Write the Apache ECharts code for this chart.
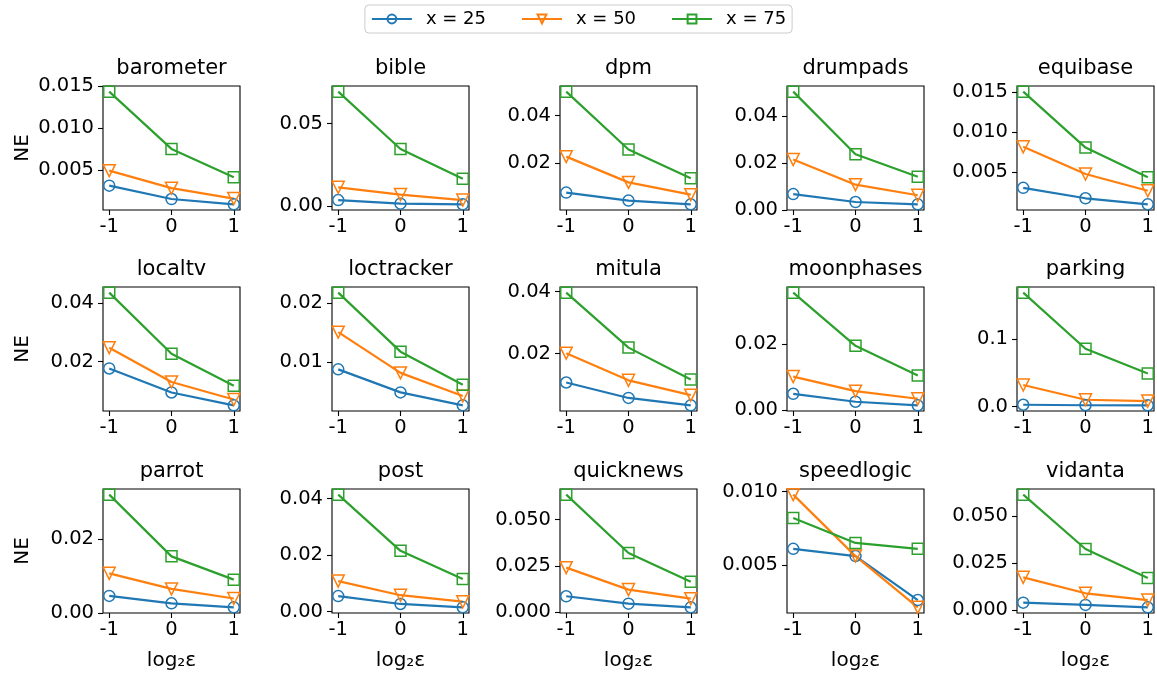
<!DOCTYPE html>
<html>
<head>
<meta charset="utf-8">
<script src="https://cdn.jsdelivr.net/npm/echarts@6/dist/echarts.min.js"></script>
<style>
  html, body { margin: 0; padding: 0; background: #fff; }
  #chart { width: 1157px; height: 675px; }
</style>
</head>
<body>
<div id="chart"></div>
<script>
// log2(epsilon) values on the x axis
const xValues = [-1, 0, 1];
const seriesNames = ['x = 25', 'x = 50', 'x = 75'];

const datasets = ['barometer', 'bible', 'dpm', 'drumpads', 'equibase',
  'localtv', 'loctracker', 'mitula', 'moonphases', 'parking',
  'parrot', 'post', 'quicknews', 'speedlogic', 'vidanta'];

// NE per dataset, for eps = 2^-1, 2^0, 2^1
const ne25 = [
  [0.0031, 0.0015, 0.00086], [0.0038, 0.0016, 0.0012], [0.0075, 0.0041, 0.0025],
  [0.0068, 0.0034, 0.0024], [0.00307, 0.00176, 0.0010],
  [0.0177, 0.0095, 0.0051], [0.0088, 0.0049, 0.0027], [0.0106, 0.0056, 0.0032],
  [0.0050, 0.0026, 0.0015], [0.0025, 0.0018, 0.0016],
  [0.0046, 0.0026, 0.0015], [0.0055, 0.0027, 0.0015], [0.0085, 0.0045, 0.0025],
  [0.0061, 0.0056, 0.0026], [0.0039, 0.0027, 0.0014]
];
const ne50 = [
  [0.0049, 0.0028, 0.00155], [0.0115, 0.0071, 0.0038], [0.0227, 0.0118, 0.0066],
  [0.0215, 0.0108, 0.0063], [0.0082, 0.0048, 0.0027],
  [0.0248, 0.0131, 0.0071], [0.0151, 0.0082, 0.0043], [0.0201, 0.0113, 0.0065],
  [0.0102, 0.0058, 0.0035], [0.0318, 0.0099, 0.0080],
  [0.0107, 0.0065, 0.0039], [0.0108, 0.0058, 0.0035], [0.0240, 0.0121, 0.0072],
  [0.0098, 0.0056, 0.0021], [0.0174, 0.0089, 0.0053]
];
const ne75 = [
  [0.01436, 0.0075, 0.0041], [0.0694, 0.0347, 0.0167], [0.0502, 0.0257, 0.0136],
  [0.0505, 0.0238, 0.0142], [0.0151, 0.0081, 0.0044],
  [0.0436, 0.0227, 0.0118], [0.0218, 0.0118, 0.0062], [0.0397, 0.0219, 0.0116],
  [0.0356, 0.0195, 0.0105], [0.169, 0.0856, 0.0488],
  [0.0320, 0.0153, 0.0090], [0.0414, 0.0215, 0.0115], [0.0635, 0.0319, 0.0163],
  [0.0082, 0.0065, 0.0061], [0.0615, 0.0325, 0.0170]
];

const yTicks = [
  ['0.005', '0.010', '0.015'], ['0.00', '0.05'], ['0.00', '0.02', '0.04'],
  ['0.00', '0.02', '0.04'], ['0.005', '0.010', '0.015'],
  ['0.02', '0.04'], ['0.01', '0.02'], ['0.02', '0.04'],
  ['0.00', '0.02'], ['0.0', '0.1'],
  ['0.00', '0.02'], ['0.00', '0.02', '0.04'], ['0.000', '0.025', '0.050'],
  ['0.005', '0.010'], ['0.000', '0.025', '0.050']
];

const colors = ['#1f77b4', '#ff7f0e', '#2ca02c'];
const symbols = ['circle', 'triangle', 'rect'];
const FONT = 'DejaVu Sans';

const colLeft = [103, 332, 560, 787, 1017];
const rowTop = [86, 287, 489];
const W = 137, H = 124;

var grids = [], xAxes = [], yAxes = [], titles = [], series = [];
const allData = [ne25, ne50, ne75];

datasets.forEach((name, i) => {
  const r = Math.floor(i / 5), c = i % 5;
  grids.push({
    left: colLeft[c], top: rowTop[r], width: W, height: H,
    show: true, borderColor: '#000', borderWidth: 1.1, backgroundColor: 'transparent'
  });
  titles.push({
    text: name, padding: 0,
    left: colLeft[c] + W / 2, top: rowTop[r] - 28, textAlign: 'center',
    textStyle: { fontFamily: FONT, fontSize: 21, fontWeight: 'normal', color: '#000' }
  });

  // matplotlib style limits: 5% margin around the data
  let vals = [].concat(ne25[i], ne50[i], ne75[i]);
  let lo = Math.min.apply(null, vals), hi = Math.max.apply(null, vals);
  let pad = (hi - lo) * 0.05;
  let tickVals = yTicks[i].map(parseFloat);
  let labelMap = {};
  yTicks[i].forEach(t => { labelMap[parseFloat(t).toFixed(6)] = t; });

  xAxes.push({
    type: 'value', gridIndex: i, min: -1.1, max: 1.1,
    name: r === 2 ? 'log₂ε' : '',
    nameLocation: 'middle', nameGap: 38,
    nameTextStyle: { fontFamily: FONT, fontSize: 20, color: '#000' },
    axisLine: { show: false, onZero: false },
    axisTick: { show: true, inside: false, length: 5, customValues: xValues,
      lineStyle: { color: '#000', width: 1.1 } },
    axisLabel: { customValues: xValues, margin: 7, fontFamily: FONT, fontSize: 19.5, color: '#000',
      formatter: v => String(v) },
    splitLine: { show: false }
  });
  yAxes.push({
    type: 'value', gridIndex: i, min: lo - pad, max: hi + pad,
    name: c === 0 ? 'NE' : '',
    nameLocation: 'middle', nameGap: 70,
    nameTextStyle: { fontFamily: FONT, fontSize: 20, color: '#000' },
    axisLine: { show: false, onZero: false },
    axisTick: { show: true, inside: false, length: 5, customValues: tickVals,
      lineStyle: { color: '#000', width: 1.1 } },
    axisLabel: { customValues: tickVals, margin: 9, fontFamily: FONT, fontSize: 19.5, color: '#000',
      formatter: v => labelMap[Number(v).toFixed(6)] || String(v) },
    splitLine: { show: false }
  });

  allData.forEach((arr, k) => {
    series.push({
      name: seriesNames[k], type: 'line',
      xAxisIndex: i, yAxisIndex: i,
      data: xValues.map((x, j) => [x, arr[i][j]]),
      symbol: symbols[k], symbolSize: k === 1 ? 12 : 11,
      symbolRotate: k === 1 ? 180 : 0,
      showAllSymbol: true,
      lineStyle: { color: colors[k], width: 2.2 },
      itemStyle: { color: 'rgba(255,255,255,0)', borderColor: colors[k], borderWidth: 1.5 },
      emphasis: { disabled: true },
      animation: false
    });
  });
});

var chart = echarts.init(document.getElementById('chart'), null, { renderer: 'canvas' });
chart.setOption({
  backgroundColor: '#fff',
  animation: false,
  title: titles,
  legend: {
    data: seriesNames,
    left: 'center', top: 5,
    itemWidth: 40, itemHeight: 11, itemGap: 35,
    padding: [5, 6, 5, 6],
    borderColor: '#cccccc', borderWidth: 1, borderRadius: 4,
    textStyle: { fontFamily: FONT, fontSize: 18, color: '#000', padding: [0, 0, 0, 9] }
  },
  grid: grids,
  xAxis: xAxes,
  yAxis: yAxes,
  series: series
});
</script>
</body>
</html>
